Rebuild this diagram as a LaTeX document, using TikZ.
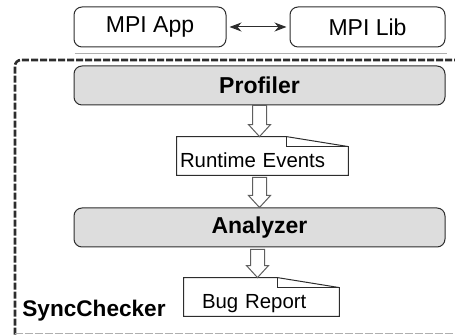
\documentclass[tikz,border=0pt]{standalone}
\usepackage{fontspec}
\setmainfont{Liberation Sans}
\usetikzlibrary{arrows.meta,positioning,calc}
\definecolor{ink}{RGB}{45,45,45}
\definecolor{boxfill}{RGB}{221,221,221}
\definecolor{shade}{RGB}{95,95,95}
\definecolor{rule}{RGB}{175,175,175}
\tikzset{
  comp/.style={draw=ink,rounded corners=4pt,minimum height=20pt,inner sep=0pt,line width=0.5pt,
    font=\fontsize{11.5}{13}\selectfont},
  stage/.style={comp,fill=boxfill,minimum width=185.5pt,minimum height=19.5pt,
    font=\fontsize{11.5}{13}\selectfont\bfseries},
  doc/.style={inner ysep=0pt,minimum height=19pt,align=left,text height=12pt,text depth=0pt,
    font=\fontsize{10.2}{12}\selectfont},
  docline/.style={draw=ink,line width=0.5pt},
  dbl/.style={{Stealth[length=6pt,width=4.5pt]}-{Stealth[length=6pt,width=4.5pt]},ink,line width=0.5pt,
    shorten <=1.5pt,shorten >=1.5pt},
  flow/.style={draw=shade,fill=white,line width=0.5pt,
    to path={let \p1=(\tikztostart),\p2=(\tikztotarget) in
      (\x1-3.5pt,\y1) -- (\x1-3.5pt,\y2+6pt) -- (\x1-5.5pt,\y2+6pt) -- (\x1,\y2)
      -- (\x1+5.5pt,\y2+6pt) -- (\x1+3.5pt,\y2+6pt) -- (\x1+3.5pt,\y1) -- cycle}},
  frame/.style={dash pattern=on 3.5pt off 1pt,line width=1.3pt,ink},
}
\begin{document}
\begin{tikzpicture}[x=0.5pt,y=-0.5pt]
\useasboundingbox (0,0) rectangle (455,335);
% application and library
\node[comp,minimum width=76pt] (app) at (150,27) {MPI App};
\node[comp,minimum width=77.5pt] (lib) at (367.5,27) {MPI Lib};
\draw[dbl] (app) -- (lib);
\draw[rule,line width=0.5pt] ($(app.south west)+(1,6)$) -- ($(lib.south east)+(1,6)$);
% checker frame
\draw[frame,rounded corners=3pt] (470,60) -- (15,60) -- (15,345);
\draw[rule,dash pattern=on 4pt off 1pt,line width=0.4pt] (15,333.5) -- (470,333.5);
\node[font=\fontsize{11.3}{13}\selectfont\bfseries,anchor=base west,inner sep=0pt] (tag) at (22,317) {SyncChecker};
% stages and documents
\node[stage] (prof) at (259.5,85.5) {Profiler};
\node[doc,minimum width=85.5pt,text width=82.5pt,inner xsep=1.5pt] (rt) at (262.5,156) {Runtime Events};
\node[stage] (ana) at (259.5,227.5) {Analyzer};
\node[doc,minimum width=77.5pt,text width=59.5pt,inner xsep=9pt] (bug) at (261.5,297) {Bug Report};
\foreach \d in {rt,bug}{
  \draw[docline] (\d.north west) -- ($(\d.north east)+(-62,0)$) -- ($(\d.north east)+(0,10)$)
    -- (\d.south east) -- (\d.south west) -- cycle;
  \draw[docline] ($(\d.north east)+(-62,0)$) |- ($(\d.north east)+(0,10)$);
}
% data flow
\draw[flow] (prof.south) to (rt.north);
\draw[flow] ($(rt.south -| ana.north)+(0,2)$) to (ana.north);
\draw[flow] ($(ana.south)+(-2,2)$) to (bug.north);
\end{tikzpicture}
\end{document}
